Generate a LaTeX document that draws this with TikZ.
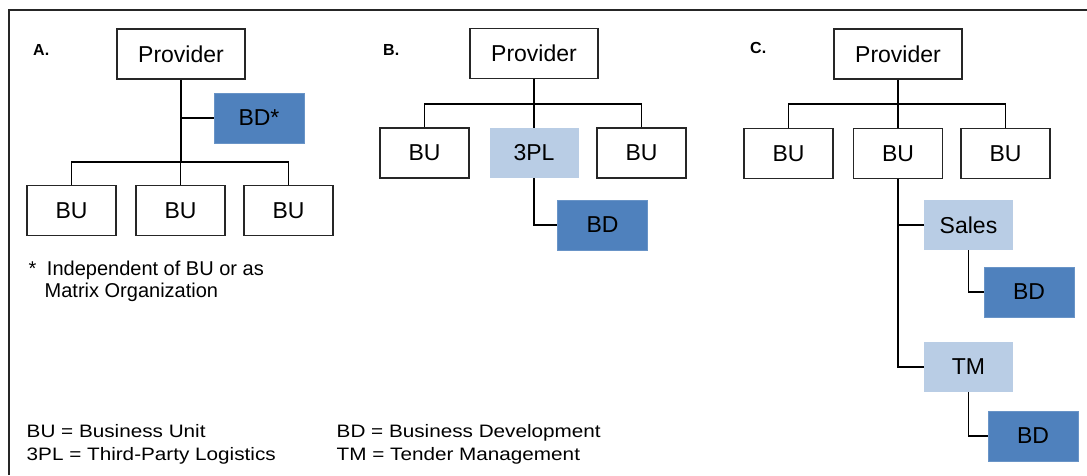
\documentclass[tikz,border=0pt]{standalone}
\usepackage{fontspec}
\setmainfont{Liberation Sans}
\newfontfamily\legendfont[FakeStretch=1.15]{Liberation Sans}
\definecolor{bddark}{HTML}{4F81BD}
\definecolor{bdlight}{HTML}{B9CDE5}
\definecolor{framegray}{HTML}{262626}

\begin{document}
\begin{tikzpicture}[x=1pt,y=-1pt,
  orgbox/.style={minimum width=89pt, minimum height=50pt, inner sep=0pt,
    font=\fontsize{23}{27}\selectfont},
  plainbox/.style={orgbox, draw=black!85, line width=1.4pt, fill=white},
  topbox/.style={plainbox, minimum width=128pt},
  devbox/.style={orgbox, fill=bddark, draw=bddark!85!white, line width=0.6pt, minimum width=90pt},
  subbox/.style={orgbox, fill=bdlight},
  link/.style={draw=black, line width=1.5pt},
  panellabel/.style={anchor=base west, inner sep=0pt, font=\bfseries\fontsize{16}{18}\selectfont},
  notetext/.style={anchor=base west, inner sep=0pt, font=\fontsize{20}{24}\selectfont},
  legendtext/.style={anchor=base west, inner sep=0pt, font=\legendfont\fontsize{18}{21}\selectfont}
]
\useasboundingbox (0,0) rectangle (1087,475);

% outer frame (top and left edges)
\draw[line width=2pt, framegray] (8.5,475) -- (8.5,10) -- (1087,10);

% ---------------- Panel A ----------------
\node[panellabel] (labA) at (33,55) {A.};
\node[topbox] (provA) at (181,54) {Provider};
\node[devbox] (bdA) at (259,118) {BD*};
\node[plainbox] (buA1) at (71.5,210.5) {BU};
\node[plainbox] (buA2) at (180.5,210.5) {BU};
\node[plainbox] (buA3) at (288.5,210.5) {BU};
\coordinate (busA) at (181,162);
\draw[link] (provA.south) -- (busA);
\draw[link] (bdA.west) -- (bdA.west -| busA);
\draw[link] (buA1.north) |- (busA) -| (buA3.north);
\draw[link] (buA2.north) -- (buA2.north |- busA);
\node[notetext] (noteA1) at (28.5,275) {*\hspace{10.5pt}Independent of BU or as};
\node[notetext] (noteA2) at (44.5,297) {Matrix Organization};

% ---------------- Panel B ----------------
\node[panellabel] (labB) at (383,55) {B.};
\node[topbox] (provB) at (534,53.5) {Provider};
\node[plainbox] (buB1) at (424.5,153) {BU};
\node[subbox] (plB) at (534,153) {3PL};
\node[plainbox] (buB3) at (641.5,153) {BU};
\node[devbox] (bdB) at (602.5,225) {BD};
\coordinate (busB) at (534,104);
\draw[link] (provB.south) -- (plB.north);
\draw[link] (buB1.north) |- (busB) -| (buB3.north);
\draw[link] (plB.south) |- (bdB.west);

% ---------------- Panel C ----------------
\node[panellabel] (labC) at (750,53) {C.};
\node[topbox] (provC) at (898,54) {Provider};
\node[plainbox] (buC1) at (788.5,153.5) {BU};
\node[plainbox] (buC2) at (898,153.5) {BU};
\node[plainbox] (buC3) at (1005.5,153.5) {BU};
\node[subbox] (salesC) at (968.5,225) {Sales};
\node[devbox] (bdC1) at (1029,292) {BD};
\node[subbox] (tmC) at (968.5,367) {TM};
\node[devbox] (bdC2) at (1033,436) {BD};
\coordinate (busC) at (898,104);
\draw[link] (provC.south) -- (buC2.north);
\draw[link] (buC1.north) |- (busC) -| (buC3.north);
\draw[link] (buC2.south) |- (tmC.west);
\draw[link] (salesC.west) -- (salesC.west -| buC2.south);
\draw[link] (salesC.south) |- (bdC1.west);
\draw[link] (tmC.south) |- (bdC2.west);

% ---------------- Legend ----------------
\node[legendtext] (legBU) at (26.5,437) {BU = Business Unit};
\node[legendtext] (leg3PL) at (26.5,460) {3PL = Third-Party Logistics};
\node[legendtext] (legBD) at (336.5,437) {BD = Business Development};
\node[legendtext] (legTM) at (336.5,460) {TM = Tender Management};
\end{tikzpicture}
\end{document}
